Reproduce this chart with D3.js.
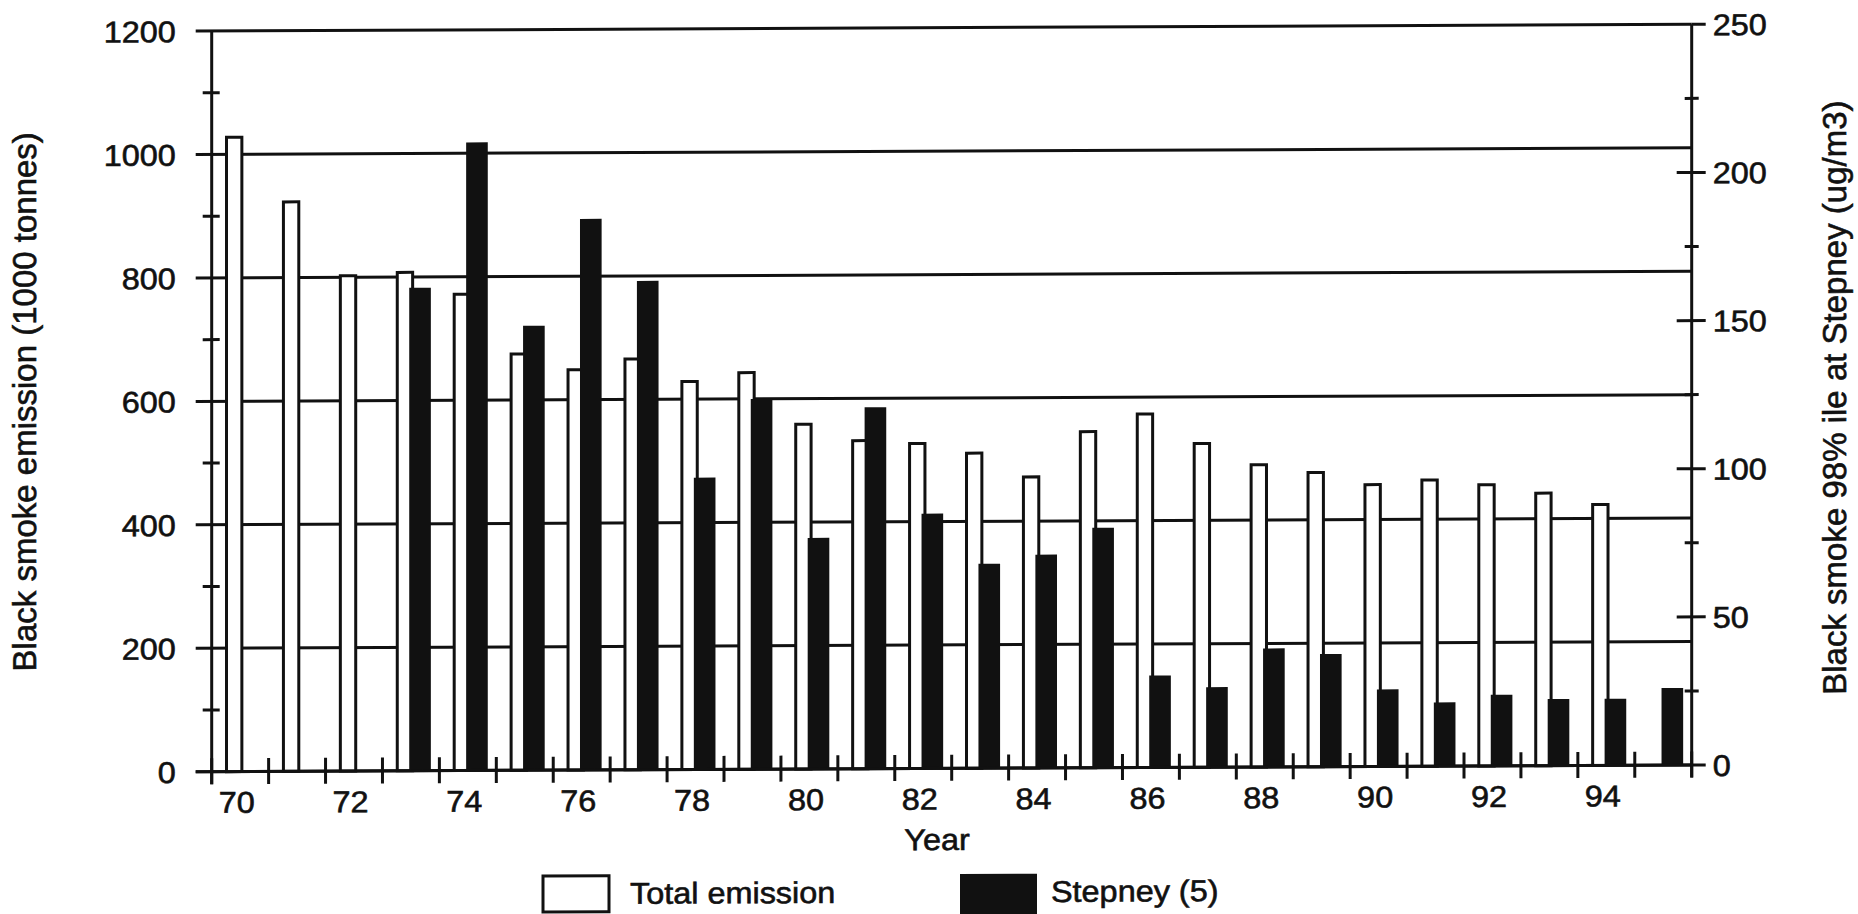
<!DOCTYPE html>
<html><head><meta charset="utf-8">
<script src="https://cdn.jsdelivr.net/npm/d3@7"></script>
<style>
html,body{margin:0;padding:0;background:#fff;}
svg{display:block;}
text{font-family:"Liberation Sans", Arial, Helvetica, sans-serif; fill:#111; stroke:#111; stroke-width:0.6px;}
</style>
</head><body>
<svg id="chart" width="1858" height="914"></svg>
<script>
// ---- data ----
const years = ["70","71","72","73","74","75","76","77","78","79","80","81","82","83","84","85","86","87","88","89","90","91","92","93","94","95"];
const totalEmission = [1030, 925, 805, 810, 774, 677, 651, 668, 631, 645, 561, 534, 529, 513, 474, 547, 575, 527, 492, 479, 459, 466, 458, 444, 425, null];
const stepney = [null, null, null, 163, 212, 150, 186, 165, 98.5, 125, 78, 122, 86, 69, 72, 81, 31, 27, 40, 38, 26, 21.5, 24, 22.5, 22.5, 26];
const yearLabels = ["70","72","74","76","78","80","82","84","86","88","90","92","94"];
const leftTicks = [0, 200, 400, 600, 800, 1000, 1200];
const leftMinor = [100, 300, 500, 700, 900, 1100];
const rightTicks = [0, 50, 100, 150, 200, 250];
const rightMinor = [25, 75, 125, 175, 225];
const leftTitle = "Black smoke emission (1000 tonnes)";
const rightTitle = "Black smoke 98% ile at Stepney (ug/m3)";
const xTitle = "Year";
const legendItems = [{label: "Total emission", fill: "#fff"}, {label: "Stepney (5)", fill: "#111"}];

// ---- layout ----
const X0 = 211.7, X1 = 1691.7, Y0 = 771.7, Y1 = 31;
const INK = "#111", SW = 3;
const FS = 30, SX = 1.08;   // horizontal text size and width stretch of the scan
const skew = -6.7 / 1480;   // the scanned page is slightly sheared

const svg = d3.select("#chart");
const g = svg.append("g").attr("transform", `matrix(1,${skew},0,1,0,${-skew * X0})`);

const x = d3.scaleBand().domain(years).range([X0, X1]).paddingInner(0).paddingOuter(0);
const bw = x.bandwidth();
const yL = d3.scaleLinear().domain([0, 1200]).range([Y0, Y1]);
const yR = d3.scaleLinear().domain([0, 250]).range([Y0, Y1]);

function hText(parent, str, tx, ty, anchor, dy) {
  return parent.append("text")
    .attr("transform", `translate(${tx},${ty}) scale(${SX},1)`)
    .attr("text-anchor", anchor)
    .attr("dy", dy || 0)
    .attr("font-size", FS)
    .text(str);
}

// gridlines (left major ticks extend left of axis)
g.append("g").selectAll("line").data(leftTicks).join("line")
  .attr("x1", X0 - 16).attr("x2", X1)
  .attr("y1", d => yL(d)).attr("y2", d => yL(d))
  .attr("stroke", INK).attr("stroke-width", SW);

// bars: total emission (white)
const rows = years.map((yr, i) => ({yr, tot: totalEmission[i], st: stepney[i]}));
g.append("g").selectAll("rect").data(rows.filter(d => d.tot != null)).join("rect")
  .attr("x", d => x(d.yr) + bw * 0.26)
  .attr("width", bw * 0.27)
  .attr("y", d => yL(d.tot) + SW / 2)
  .attr("height", d => yL(0) - yL(d.tot) - SW / 2)
  .attr("fill", "#fff").attr("stroke", INK).attr("stroke-width", SW);

// bars: Stepney (black), right scale
g.append("g").selectAll("rect").data(rows.filter(d => d.st != null)).join("rect")
  .attr("x", d => x(d.yr) + bw * 0.47)
  .attr("width", bw * 0.38)
  .attr("y", d => yR(d.st))
  .attr("height", d => yR(0) - yR(d.st))
  .attr("fill", INK);

// x axis line
g.append("line").attr("x1", X0 - 16).attr("x2", X1).attr("y1", Y0).attr("y2", Y0)
  .attr("stroke", INK).attr("stroke-width", SW);

// left & right axis lines
[X0, X1].forEach(xx => g.append("line").attr("x1", xx).attr("x2", xx).attr("y1", Y1).attr("y2", Y0 + 12.5)
  .attr("stroke", INK).attr("stroke-width", SW));

// left minor ticks
g.append("g").selectAll("line").data(leftMinor).join("line")
  .attr("x1", X0 - 9).attr("x2", X0 + 8)
  .attr("y1", d => yL(d)).attr("y2", d => yL(d))
  .attr("stroke", INK).attr("stroke-width", SW);

// left tick labels via d3 axis
const axL = g.append("g").attr("transform", `translate(${X0},0)`)
  .call(d3.axisLeft(yL).tickValues(leftTicks).tickFormat(d3.format("d")).tickSize(16).tickPadding(20).tickSizeOuter(0));
axL.select(".domain").remove();
axL.selectAll(".tick line").remove();
axL.selectAll(".tick text").each(function () {
  const t = d3.select(this);
  const tx = +t.attr("x");
  t.attr("x", 0).attr("dy", "0.35em").attr("font-size", FS)
   .attr("fill", INK).attr("transform", `translate(${tx},0) scale(${SX},1)`);
});
axL.attr("font-family", null).attr("font-size", null);

// right axis ticks
g.append("g").selectAll("line").data(rightTicks).join("line")
  .attr("x1", d => (d === 0 || d === 250) ? X1 : X1 - 15).attr("x2", X1 + 14)
  .attr("y1", d => yR(d)).attr("y2", d => yR(d))
  .attr("stroke", INK).attr("stroke-width", SW);
g.append("g").selectAll("line").data(rightMinor).join("line")
  .attr("x1", X1 - 7).attr("x2", X1 + 7)
  .attr("y1", d => yR(d)).attr("y2", d => yR(d))
  .attr("stroke", INK).attr("stroke-width", SW);
const axR = g.append("g").attr("transform", `translate(${X1},0)`)
  .call(d3.axisRight(yR).tickValues(rightTicks).tickFormat(d3.format("d")).tickSize(14).tickPadding(7).tickSizeOuter(0));
axR.select(".domain").remove();
axR.selectAll(".tick line").remove();
axR.selectAll(".tick text").each(function () {
  const t = d3.select(this);
  const tx = +t.attr("x");
  t.attr("x", 0).attr("dy", "0.35em").attr("font-size", FS)
   .attr("fill", INK).attr("transform", `translate(${tx},0) scale(${SX},1)`);
});
axR.attr("font-family", null).attr("font-size", null);

// x ticks at band boundaries
const bounds = years.map(d => x(d)).concat([X1]);
g.append("g").selectAll("line").data(bounds).join("line")
  .attr("x1", d => d).attr("x2", d => d).attr("y1", Y0 - 13.5).attr("y2", Y0 + 12.5)
  .attr("stroke", INK).attr("stroke-width", SW);

// x labels
const xl = g.append("g");
yearLabels.forEach(d => hText(xl, d, x(d) + bw / 2 - 3.5, 812.8, "middle"));

// axis titles
hText(g, xTitle, 937, 853.3, "middle");
g.append("text").attr("transform", `translate(27,401) rotate(-90)`)
  .attr("text-anchor", "middle").attr("dy", "0.28em").attr("font-size", 33).text(leftTitle);
g.append("text").attr("transform", `translate(1837,405) rotate(-90)`)
  .attr("text-anchor", "middle").attr("dy", "0.28em").attr("font-size", 33).text(rightTitle);

// legend
const legX = [543, 960], legW = [66, 77], legTX = [630, 1051];
legendItems.forEach((it, i) => {
  g.append("rect").attr("x", legX[i]).attr("y", 877.5).attr("width", legW[i]).attr("height", i === 0 ? 36 : 50)
    .attr("fill", it.fill).attr("stroke", INK).attr("stroke-width", i === 0 ? SW : 0);
  hText(g, it.label, legTX[i], 905.7, "start");
});
</script>
</body></html>
